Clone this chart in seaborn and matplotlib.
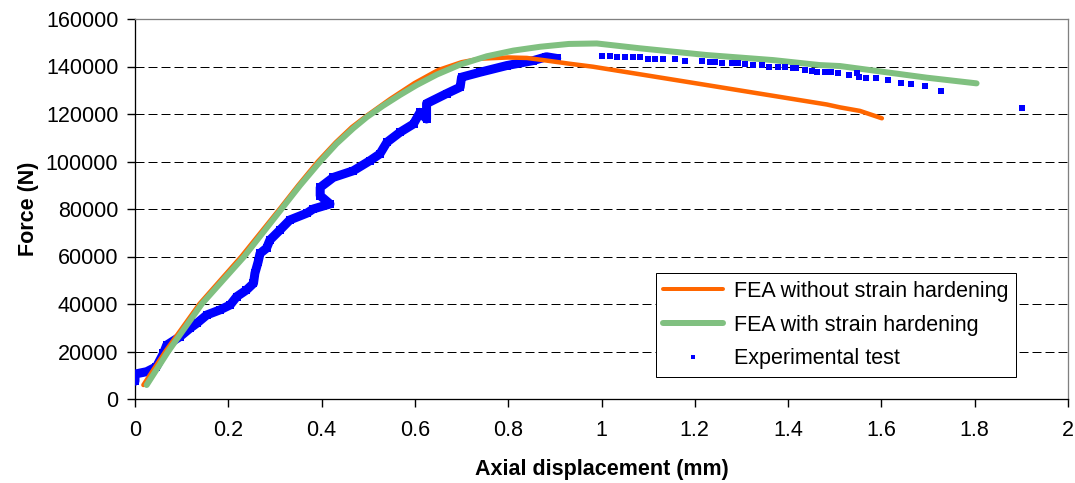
import numpy as np
import pandas as pd
import matplotlib
matplotlib.use("Agg")
import matplotlib.pyplot as plt
from matplotlib.lines import Line2D
import seaborn as sns

# ---------------- data ----------------
fea_no_x = [0.018, 0.065, 0.138, 0.228, 0.31, 0.35, 0.392, 0.43, 0.465, 0.497, 0.547, 0.599,
            0.65, 0.70, 0.74, 0.80, 0.84, 0.875, 0.93, 0.982, 1.2, 1.483, 1.511, 1.554, 1.601]
fea_no_y = [5900, 20000, 40000, 60000, 80000, 90000, 100000, 108000, 114500, 119300, 126300, 133000,
            138500, 141800, 143300, 143800, 143600, 142700, 141200, 139900, 133000, 124000, 122800,
            121300, 118200]

fea_sh_x = [0.025, 0.071, 0.143, 0.234, 0.314, 0.354, 0.397, 0.432, 0.468, 0.497, 0.532, 0.568,
            0.604, 0.647, 0.697, 0.754, 0.811, 0.868, 0.93, 0.99, 1.083, 1.225, 1.368, 1.468,
            1.511, 1.697, 1.804]
fea_sh_y = [5900, 20000, 40000, 60000, 80000, 90000, 100000, 107500, 114000, 118700, 123500, 128000,
            132200, 136600, 140800, 144300, 146700, 148300, 149500, 149700, 147650, 144840, 142700,
            140600, 140200, 135300, 132900]

exp_dense_x = [0.000, 0.000, 0.025, 0.046, 0.061, 0.068, 0.096, 0.118, 0.132, 0.154, 0.182,
               0.204, 0.218, 0.239, 0.254, 0.257, 0.264, 0.268, 0.282, 0.289, 0.311, 0.332,
               0.368, 0.382, 0.418, 0.397, 0.397, 0.425, 0.468, 0.504, 0.525, 0.540, 0.568,
               0.597, 0.611, 0.625, 0.625, 0.668, 0.697, 0.700, 0.740, 0.797, 0.854, 0.882, 0.904]
exp_dense_y = [7500, 10500, 11500, 13600, 19200, 22700, 26200, 29800, 31800, 35400, 37500,
               39600, 43100, 45900, 48700, 52900, 57800, 61300, 63500, 66900, 71200, 75400,
               78200, 80000, 82100, 85600, 89100, 93300, 96100, 100400, 103200, 108100, 112300,
               115800, 120700, 117900, 124400, 128600, 131300, 135500, 137600, 140400, 142500,
               144100, 143400]

exp_x = [1.000, 1.018, 1.033, 1.050, 1.068, 1.083, 1.100, 1.115, 1.132, 1.158, 1.180, 1.215,
         1.233, 1.243, 1.258, 1.279, 1.293, 1.308, 1.325, 1.343, 1.359, 1.379, 1.393, 1.411,
         1.418, 1.436, 1.451, 1.461, 1.479, 1.493, 1.508, 1.531, 1.547, 1.553, 1.568, 1.588,
         1.615, 1.642, 1.663, 1.693, 1.727, 1.902]
exp_y = [144560, 144560, 143860, 143860, 143860, 143860, 143160, 143160, 143160, 143160, 142460, 142460,
         142040, 141760, 141330, 141330, 141330, 140910, 140630, 140630, 139930, 139930, 139930, 139510,
         139230, 138530, 138110, 137810, 137810, 137530, 137110, 136420, 137390, 135720, 135300, 135300,
         134320, 133190, 132510, 131790, 129810, 122530]

x_ticks = [0, 0.2, 0.4, 0.6, 0.8, 1, 1.2, 1.4, 1.6, 1.8, 2]
x_tick_labels = ["0", "0.2", "0.4", "0.6", "0.8", "1", "1.2", "1.4", "1.6", "1.8", "2"]
y_ticks = [0, 20000, 40000, 60000, 80000, 100000, 120000, 140000, 160000]
y_tick_labels = [str(v) for v in y_ticks]

labels = ["FEA without strain hardening", "FEA with strain hardening", "Experimental test"]

# ---------------- style ----------------
sns.set_theme(style="white")
plt.rcParams["font.family"] = ["Liberation Sans", "DejaVu Sans"]
plt.rcParams["text.color"] = "black"
plt.rcParams["axes.labelcolor"] = "black"
plt.rcParams["xtick.color"] = "black"
plt.rcParams["ytick.color"] = "black"
FS = 15.5
ORANGE = "#FF6600"
GREEN = "#80C080"
BLUE = "#0000FF"
px = 0.72  # points per pixel at dpi 100

fig = plt.figure(figsize=(10.75, 4.83), dpi=100)
ax = fig.add_axes([135 / 1075, (483 - 399) / 483, 933 / 1075, 380 / 483])

df_no = pd.DataFrame({"x": fea_no_x, "y": fea_no_y})
df_sh = pd.DataFrame({"x": fea_sh_x, "y": fea_sh_y})
df_ed = pd.DataFrame({"x": exp_dense_x, "y": exp_dense_y})
df_ex = pd.DataFrame({"x": exp_x, "y": exp_y})

sns.lineplot(data=df_ed, x="x", y="y", ax=ax, sort=False, estimator=None, color=BLUE,
             linewidth=9 * px, marker="s", markersize=8 * px, markeredgewidth=0, zorder=3)
sns.lineplot(data=df_no, x="x", y="y", ax=ax, sort=False, estimator=None, color=ORANGE,
             linewidth=4.5 * px, zorder=4)
sns.lineplot(data=df_sh, x="x", y="y", ax=ax, sort=False, estimator=None, color=GREEN,
             linewidth=6 * px, zorder=5)
sns.scatterplot(data=df_ex, x="x", y="y", ax=ax, color=BLUE, marker="s", s=(5.5 * px) ** 2,
                linewidth=0, zorder=6)

ax.set_xlim(0, 2)
ax.set_ylim(0, 160000)
ax.set_xticks(x_ticks)
ax.set_xticklabels(x_tick_labels)
ax.set_yticks(y_ticks)
ax.set_yticklabels(y_tick_labels)
ax.tick_params(axis="both", which="major", direction="out", length=6, width=1, color="black",
               labelsize=FS, labelcolor="black", bottom=True, left=True, pad=6)
ax.tick_params(axis="x", pad=9)

for v in y_ticks[1:]:
    ax.axhline(v, color="black", linewidth=1 * px, dashes=(9, 4), zorder=1)

for side in ["left", "bottom"]:
    ax.spines[side].set_color("black")
    ax.spines[side].set_linewidth(1.3 * px)
for side in ["top", "right"]:
    ax.spines[side].set_color("#808080")
    ax.spines[side].set_linewidth(1.3 * px)
    ax.spines[side].set_visible(True)

ax.set_xlabel("Axial displacement (mm)", fontsize=FS, fontweight="bold", labelpad=13, color="black")
ax.set_ylabel("Force (N)", fontsize=FS, fontweight="bold", labelpad=5, color="black")

handles = [
    Line2D([0], [0], color=ORANGE, linewidth=4 * px),
    Line2D([0], [0], color=GREEN, linewidth=6 * px),
    Line2D([0], [0], color=BLUE, linestyle="none", marker="s", markersize=5 * px, markeredgewidth=0),
]
leg = ax.legend(handles, labels, loc="lower left", bbox_to_anchor=(0.558, 0.058),
                fontsize=FS, frameon=True, fancybox=False, framealpha=1,
                edgecolor="black", handlelength=2.8, labelspacing=0.6,
                borderpad=0.35, handletextpad=0.5, borderaxespad=0)
leg.get_frame().set_linewidth(1 * px)
for t in leg.get_texts():
    t.set_color("black")

fig.savefig("out.png", dpi=100)
